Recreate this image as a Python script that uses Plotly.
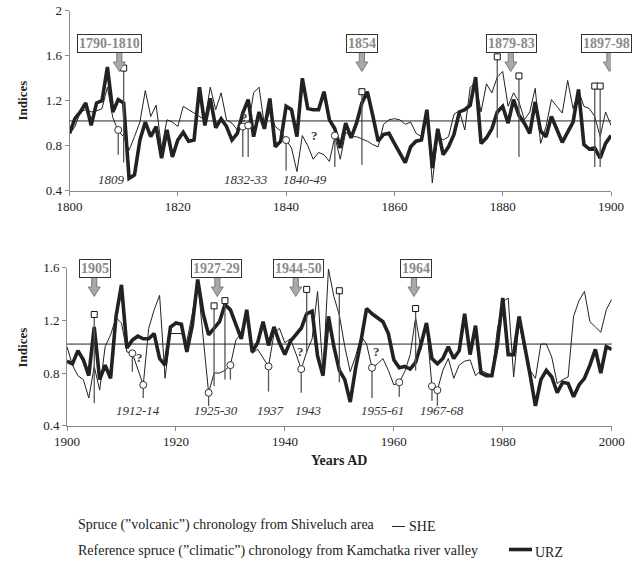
import plotly.graph_objects as go

# ---------------- data ----------------
years_top = list(range(1800, 1901))
years_bot = list(range(1900, 2001))

# SHE: spruce ("volcanic") chronology, Shiveluch area (thin line)
she_top = [0.90, 0.97, 1.10, 1.12, 1.10, 1.11, 1.13, 1.32, 1.05, 0.93,
           0.88, 0.76, 0.88, 1.01, 1.29, 1.06, 1.16, 0.78, 1.03, 1.01,
           0.97, 1.15, 1.12, 1.09, 1.06, 1.03, 1.32, 1.12, 1.27, 1.03,
           1.00, 0.94, 0.96, 0.97, 1.27, 1.32, 0.98, 1.10, 0.97, 0.93,
           0.85, 0.78, 0.57, 0.89, 0.80, 0.68, 0.74, 0.72, 0.66, 0.88,
           0.68, 0.92, 0.88, 0.88, 0.86, 0.84, 0.81, 0.79, 0.99, 1.03,
           1.04, 1.03, 0.99, 1.01, 0.91, 0.88, 1.11, 0.47, 0.89, 0.85,
           0.88, 1.08, 1.11, 0.94, 1.32, 1.36, 1.10, 1.35, 1.27, 1.41,
           1.46, 1.15, 1.27, 1.19, 1.03, 1.10, 1.31, 0.82, 0.97, 1.21,
           1.15, 1.09, 1.38, 1.13, 1.29, 1.15, 1.13, 1.06, 0.88, 1.10,
           0.98]
# URZ: reference spruce ("climatic") chronology, Kamchatka river valley (thick line)
urz_top = [0.91, 1.04, 1.10, 1.18, 0.98, 1.18, 1.20, 1.50, 1.10, 1.21,
           1.18, 0.51, 0.54, 0.85, 1.01, 0.88, 0.97, 0.69, 0.94, 0.70,
           0.85, 0.92, 0.84, 0.85, 1.32, 0.98, 1.22, 0.96, 1.04, 0.97,
           0.85, 0.91, 1.09, 1.21, 0.88, 1.10, 0.95, 1.22, 0.79, 0.84,
           1.15, 1.12, 0.88, 1.40, 1.13, 1.12, 1.12, 1.28, 1.03, 0.95,
           0.78, 1.00, 0.87, 1.00, 1.18, 1.28, 1.07, 0.84, 0.90, 0.91,
           0.82, 0.73, 0.65, 0.79, 0.84, 0.85, 1.12, 0.60, 0.95, 0.72,
           0.79, 0.90, 1.10, 1.12, 1.16, 1.41, 0.82, 0.87, 0.95, 1.10,
           1.15, 1.00, 1.21, 1.07, 1.00, 0.91, 1.19, 0.93, 0.88, 1.06,
           0.95, 0.83, 0.92, 1.01, 1.30, 0.81, 0.77, 0.78, 0.69, 0.82,
           0.89]
she_bot = [1.00, 0.86, 0.78, 0.75, 0.61, 0.85, 0.67, 1.00, 1.09, 1.22,
           1.18, 0.96, 0.95, 0.83, 0.71, 1.14, 1.28, 1.39, 0.76, 1.10,
           1.10, 1.10, 1.04, 1.25, 1.49, 1.07, 0.65, 0.80, 0.80, 0.82,
           0.86, 1.05, 1.10, 1.25, 0.95, 0.98, 0.92, 0.85, 1.10, 1.14,
           1.03, 1.06, 0.95, 0.83, 0.96, 1.06, 1.42, 0.80, 1.59, 1.38,
           1.24, 1.00, 0.81, 0.93, 1.08, 1.02, 0.84, 0.87, 0.91, 0.82,
           0.71, 0.73, 0.81, 0.94, 1.22, 0.98, 1.17, 0.70, 0.67, 0.82,
           0.91, 0.76, 0.86, 0.89, 0.90, 0.78, 0.82, 0.80, 0.78, 1.13,
           1.34, 1.37, 0.77, 1.19, 0.97, 0.82, 0.76, 1.02, 1.02, 0.92,
           0.72, 0.75, 0.77, 1.23, 1.35, 1.42, 1.19, 1.15, 1.11, 1.28,
           1.36]
urz_bot = [0.89, 0.87, 0.97, 0.90, 0.78, 1.15, 0.75, 0.86, 0.76, 1.23,
           1.47, 0.99, 1.05, 1.08, 1.06, 1.06, 1.10, 0.91, 0.86, 1.15,
           1.18, 1.17, 0.96, 1.16, 1.51, 1.25, 1.09, 1.14, 1.19, 1.32,
           1.28, 1.17, 1.06, 1.28, 0.96, 1.03, 1.19, 1.01, 1.15, 1.03,
           0.94, 1.04, 1.09, 1.14, 1.25, 1.27, 0.93, 0.78, 1.23, 1.00,
           0.82, 0.75, 0.58, 0.84, 1.05, 1.29, 1.25, 1.22, 1.19, 1.10,
           0.90, 0.84, 0.85, 0.83, 0.88, 1.02, 1.18, 0.91, 0.87, 0.91,
           1.00, 0.91, 0.97, 1.25, 0.94, 1.16, 0.80, 0.78, 0.78, 1.01,
           1.37, 0.94, 0.94, 1.23, 1.02, 0.79, 0.55, 0.75, 0.82, 0.77,
           0.65, 0.73, 0.72, 0.62, 0.71, 0.76, 0.86, 0.98, 0.80, 1.00,
           0.98]

BASELINE = 1.02

x_ticks_top = [1800, 1820, 1840, 1860, 1880, 1900]
x_ticks_bot = [1900, 1920, 1940, 1960, 1980, 2000]
y_ticks_top = [0.4, 0.8, 1.2, 1.6, 2.0]
y_labels_top = ["0.4", "0.8", "1.2", "1.6", "2"]
y_ticks_bot = [0.4, 0.8, 1.2, 1.6]
y_labels_bot = ["0.4", "0.8", "1.2", "1.6"]

# volcanic signals: squares (positive) and circles (negative) with stems
sq_top_years = [1810, 1854, 1879, 1883, 1897, 1898]
sq_top_hi = [1.49, 1.28, 1.59, 1.42, 1.33, 1.33]
sq_top_lo = [0.65, 0.63, 0.87, 0.70, 0.61, 0.61]
ci_top_years = [1809, 1832, 1833, 1840, 1849]
ci_top_hi = [0.94, 0.97, 0.98, 0.85, 0.89]
ci_top_lo = [0.72, 0.70, 0.70, 0.58, 0.61]

sq_bot_years = [1905, 1927, 1929, 1944, 1950, 1964]
sq_bot_hi = [1.245, 1.31, 1.35, 1.435, 1.425, 1.29]
sq_bot_lo = [0.57, 0.70, 0.75, 0.95, 0.73, 0.82]
ci_bot_years = [1912, 1914, 1926, 1930, 1937, 1943, 1956, 1961, 1967, 1968]
ci_bot_hi = [0.95, 0.71, 0.65, 0.86, 0.85, 0.83, 0.84, 0.73, 0.70, 0.67]
ci_bot_lo = [0.81, 0.61, 0.55, 0.75, 0.66, 0.65, 0.61, 0.62, 0.59, 0.55]

# eruption periods (boxed labels with arrows)
erupt_top_labels = ["1790-1810", "1854", "1879-83", "1897-98"]
erupt_top_years = [1809.2, 1854.0, 1881.5, 1899.7]
erupt_top_boxyr = [1807.4, 1854.1, 1881.7, 1899.2]
erupt_bot_labels = ["1905", "1927-29", "1944-50", "1964"]
erupt_bot_years = [1905.0, 1927.6, 1942.0, 1963.7]
erupt_bot_boxyr = [1905.2, 1927.5, 1942.5, 1964.1]

# italic period labels under the curves
per_top_labels = ["1809", "1832-33", "1840-49"]
per_top_years = [1807.7, 1832.6, 1843.4]
per_bot_labels = ["1912-14", "1925-30", "1937", "1943", "1955-61", "1967-68"]
per_bot_years = [1913.1, 1927.4, 1937.3, 1944.4, 1958.0, 1968.8]

# question marks
q_top_years = [1832.4, 1845.3]
q_top_vals = [1.055, 0.895]
q_bot_years = [1913.4, 1942.8, 1956.9]
q_bot_vals = [0.92, 0.96, 0.96]

# ---------------- layout geometry ----------------
W, H = 632, 561
FONT = "Liberation Serif"
TXT = "#222222"

top_px = dict(x0=69.5, x1=611.0, y0=10.7, y1=190.7)
bot_px = dict(x0=67.0, x1=611.7, y0=267.7, y1=425.7)


def dom_x(p):
    return [p["x0"] / W, p["x1"] / W]


def dom_y(p):
    return [1 - p["y1"] / H, 1 - p["y0"] / H]


top_xr, top_yr = [1800, 1900], [0.4, 2.0]
bot_xr, bot_yr = [1900, 2000], [0.4, 1.6]


def scale(p, xr, yr):
    return ((p["x1"] - p["x0"]) / (xr[1] - xr[0]),
            (p["y1"] - p["y0"]) / (yr[1] - yr[0]))


top_sx, top_sy = scale(top_px, top_xr, top_yr)
bot_sx, bot_sy = scale(bot_px, bot_xr, bot_yr)


def px_to_val(p, yr, ypx):
    return yr[0] + (p["y1"] - ypx) / ((p["y1"] - p["y0"]) / (yr[1] - yr[0]))


fig = go.Figure()


def add_panel(xa, ya, years, she, urz, sq_y, sq_hi, sq_lo, ci_y, ci_hi, ci_lo):
    fig.add_trace(go.Scatter(x=years, y=she, mode="lines", xaxis=xa, yaxis=ya,
                             line=dict(color="#222222", width=1), showlegend=False,
                             hoverinfo="skip"))
    fig.add_trace(go.Scatter(x=years, y=urz, mode="lines", xaxis=xa, yaxis=ya,
                             line=dict(color="#222222", width=3.6), showlegend=False,
                             hoverinfo="skip"))
    sx, sy = [], []
    for yrs, hi, lo in ((sq_y, sq_hi, sq_lo), (ci_y, ci_hi, ci_lo)):
        for a, b, c in zip(yrs, hi, lo):
            sx += [a, a, None]
            sy += [b, c, None]
    fig.add_trace(go.Scatter(x=sx, y=sy, mode="lines", xaxis=xa, yaxis=ya,
                             line=dict(color="#555555", width=1.3), showlegend=False,
                             hoverinfo="skip"))
    fig.add_trace(go.Scatter(x=sq_y, y=sq_hi, mode="markers", xaxis=xa, yaxis=ya,
                             marker=dict(symbol="square", size=6, color="white",
                                         line=dict(color="#111111", width=1)),
                             showlegend=False, hoverinfo="skip"))
    fig.add_trace(go.Scatter(x=ci_y, y=ci_hi, mode="markers", xaxis=xa, yaxis=ya,
                             marker=dict(symbol="circle", size=7, color="white",
                                         line=dict(color="#333333", width=1)),
                             showlegend=False, hoverinfo="skip"))


add_panel("x", "y", years_top, she_top, urz_top, sq_top_years, sq_top_hi, sq_top_lo,
          ci_top_years, ci_top_hi, ci_top_lo)
add_panel("x2", "y2", years_bot, she_bot, urz_bot, sq_bot_years, sq_bot_hi, sq_bot_lo,
          ci_bot_years, ci_bot_hi, ci_bot_lo)

shapes = []
annotations = []

# baselines
for xr_, yr_ in (("x", "y"), ("x2", "y2")):
    shapes.append(dict(type="line", xref=xr_ + " domain", yref=yr_, x0=0, x1=1,
                       y0=BASELINE, y1=BASELINE, line=dict(color="#222222", width=1)))


def arrow_path(xc, tip, sx, sy, tail_px=19.0, head_px=9.5, shaft_hw=2.6, head_hw=6.0):
    ds = shaft_hw / sx
    dh = head_hw / sx
    yt = tip + tail_px / sy
    yh = tip + head_px / sy
    return (f"M {xc-ds},{yt} L {xc+ds},{yt} L {xc+ds},{yh} L {xc+dh},{yh} "
            f"L {xc},{tip} L {xc-dh},{yh} L {xc-ds},{yh} Z")


def add_events(xa, ya, p, yr, sx, sy, labels, years, boxyrs, box_px, tip_px):
    tip = px_to_val(p, yr, tip_px)
    boxv = px_to_val(p, yr, box_px)
    for lab, xv, bx in zip(labels, years, boxyrs):
        shapes.append(dict(type="path", xref=xa, yref=ya,
                           path=arrow_path(xv, tip, sx, sy),
                           fillcolor="#a8a8a8", line=dict(color="#6a6a6a", width=0.8)))
        annotations.append(dict(x=bx, y=boxv, xref=xa, yref=ya, text="<b>" + lab + "</b>",
                                showarrow=False, xanchor="center", yanchor="middle",
                                font=dict(family=FONT, size=14, color="#8a8a8a"),
                                bgcolor="white", bordercolor="#333333", borderwidth=1,
                                borderpad=1))


add_events("x", "y", top_px, top_yr, top_sx, top_sy, erupt_top_labels, erupt_top_years,
           erupt_top_boxyr, 43.5, 71.5)
add_events("x2", "y2", bot_px, bot_yr, bot_sx, bot_sy, erupt_bot_labels, erupt_bot_years,
           erupt_bot_boxyr, 268.0, 296.5)


def add_periods(xa, ya, p, yr, labels, years, ypx):
    v = px_to_val(p, yr, ypx)
    for lab, xv in zip(labels, years):
        annotations.append(dict(x=xv, y=v, xref=xa, yref=ya, text="<i>" + lab + "</i>",
                                showarrow=False, xanchor="center", yanchor="middle",
                                font=dict(family=FONT, size=13, color="#333333")))


add_periods("x", "y", top_px, top_yr, per_top_labels, per_top_years, 179.5)
add_periods("x2", "y2", bot_px, bot_yr, per_bot_labels, per_bot_years, 410.5)

for xa, ya, qx, qy in (("x", "y", q_top_years, q_top_vals), ("x2", "y2", q_bot_years, q_bot_vals)):
    for a, b in zip(qx, qy):
        annotations.append(dict(x=a, y=b, xref=xa, yref=ya, text="<b>?</b>", showarrow=False,
                                xanchor="center", yanchor="middle",
                                font=dict(family=FONT, size=13, color="#444444")))

# y-axis titles
for yc in (101.0, 348.0):
    annotations.append(dict(x=21.5 / W, y=1 - yc / H, xref="paper", yref="paper",
                            text="<b>Indices</b>", textangle=-90, showarrow=False,
                            xanchor="center", yanchor="middle",
                            font=dict(family=FONT, size=13, color=TXT)))
# x-axis title
annotations.append(dict(x=339 / W, y=1 - 460 / H, xref="paper", yref="paper",
                        text="<b>Years AD</b>", showarrow=False, xanchor="center",
                        yanchor="middle", font=dict(family=FONT, size=14, color=TXT)))

# legend (drawn manually)
legend_rows = [
    dict(text="Spruce (\u201dvolcanic\u201d) chronology from Shiveluch area", code="SHE",
         lw=1.0, lx0=392, lx1=405, ly=526.5, ty=524.5, cx=407),
    dict(text="Reference spruce (\u201dclimatic\u201d) chronology from Kamchatka river valley",
         code="URZ", lw=3.6, lx0=509, lx1=532, ly=549.5, ty=551, cx=533),
]
for r in legend_rows:
    annotations.append(dict(x=76 / W, y=1 - r["ty"] / H, xref="paper", yref="paper",
                            text=r["text"], showarrow=False, xanchor="left", yanchor="middle",
                            font=dict(family=FONT, size=14, color=TXT)))
    shapes.append(dict(type="line", xref="paper", yref="paper", x0=r["lx0"] / W,
                       x1=r["lx1"] / W, y0=1 - r["ly"] / H, y1=1 - r["ly"] / H,
                       line=dict(color="#222222", width=r["lw"])))
    annotations.append(dict(x=r["cx"] / W, y=1 - (r["ty"] + 1.5) / H, xref="paper",
                            yref="paper", text=r["code"], showarrow=False, xanchor="left",
                            yanchor="middle", font=dict(family=FONT, size=14, color=TXT)))

axis_common = dict(showline=True, linecolor="#8a8a8a", linewidth=1, ticks="outside",
                   ticklen=4, tickcolor="#8a8a8a", showgrid=False, zeroline=False,
                   automargin=False,
                   tickfont=dict(family=FONT, size=13, color=TXT), fixedrange=True)

fig.update_layout(
    width=W, height=H, margin=dict(l=0, r=0, t=0, b=0, pad=0, autoexpand=False),
    paper_bgcolor="white", plot_bgcolor="white", showlegend=False,
    xaxis=dict(domain=dom_x(top_px), range=top_xr, tickvals=x_ticks_top,
               ticktext=[str(v) for v in x_ticks_top], anchor="y", **axis_common),
    yaxis=dict(domain=dom_y(top_px), range=top_yr, tickvals=y_ticks_top,
               ticktext=y_labels_top, anchor="x", **axis_common),
    xaxis2=dict(domain=dom_x(bot_px), range=bot_xr, tickvals=x_ticks_bot,
                ticktext=[str(v) for v in x_ticks_bot], anchor="y2", **axis_common),
    yaxis2=dict(domain=dom_y(bot_px), range=bot_yr, tickvals=y_ticks_bot,
                ticktext=y_labels_bot, anchor="x2", **axis_common),
    shapes=shapes, annotations=annotations,
)

fig.write_html("out.html")
